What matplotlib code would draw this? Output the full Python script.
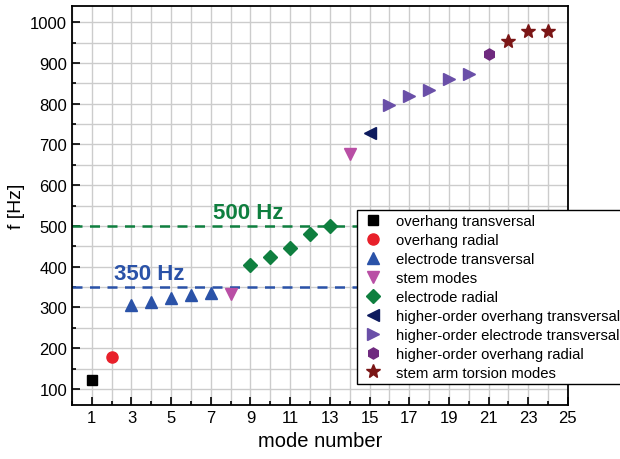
import numpy as np
import matplotlib.pyplot as plt
from matplotlib.ticker import MultipleLocator

plt.rcParams['font.family'] = ['Liberation Sans', 'DejaVu Sans']

# mode number / frequency per group
overhang_trans_x = [1]
overhang_trans_y = [122]
overhang_rad_x = [2]
overhang_rad_y = [178]
electrode_trans_x = [3, 4, 5, 6, 7]
electrode_trans_y = [305, 314, 322, 330, 336]
stem_x = [8, 14]
stem_y = [333, 677]
electrode_rad_x = [9, 10, 11, 12, 13]
electrode_rad_y = [405, 423, 446, 479, 500]
ho_overhang_trans_x = [15]
ho_overhang_trans_y = [727]
ho_electrode_trans_x = [16, 17, 18, 19, 20]
ho_electrode_trans_y = [796, 818, 833, 861, 874]
ho_overhang_rad_x = [21]
ho_overhang_rad_y = [922]
torsion_x = [22, 23, 24]
torsion_y = [953, 978, 978]

series = [
    ('overhang transversal', overhang_trans_x, overhang_trans_y, 's', '#000000', 7),
    ('overhang radial', overhang_rad_x, overhang_rad_y, 'o', '#e8202a', 8),
    ('electrode transversal', electrode_trans_x, electrode_trans_y, '^', '#2a52a8', 9),
    ('stem modes', stem_x, stem_y, 'v', '#b94fa5', 9),
    ('electrode radial', electrode_rad_x, electrode_rad_y, 'D', '#0f7f3f', 7),
    ('higher-order overhang transversal', ho_overhang_trans_x, ho_overhang_trans_y, '<', '#0d1b5e', 9),
    ('higher-order electrode transversal', ho_electrode_trans_x, ho_electrode_trans_y, '>', '#6a4fa8', 9),
    ('higher-order overhang radial', ho_overhang_rad_x, ho_overhang_rad_y, 'h', '#6f2a7f', 8),
    ('stem arm torsion modes', torsion_x, torsion_y, '*', '#7a1515', 10),
]

fig = plt.figure(figsize=(6.2, 4.6), dpi=100)
ax = fig.add_axes([0.116, 0.117, 0.800, 0.868])

# threshold lines
ax.axhline(500, color='#0f7f3f', ls=(0, (4, 3)), lw=1.8, zorder=2)
ax.axhline(350, color='#2a52a8', ls=(0, (4, 3)), lw=1.8, zorder=2)
ax.text(8.9, 507, '500 Hz', color='#0f7f3f', fontsize=16, fontweight='bold', ha='center', va='bottom')
ax.text(3.9, 357, '350 Hz', color='#2a52a8', fontsize=16, fontweight='bold', ha='center', va='bottom')

handles = []
for label, xs, ys, mk, col, ms in series:
    h, = ax.plot(xs, ys, ls='none', marker=mk, color=col, ms=ms, label=label, zorder=3)
    handles.append(h)

ax.set_xlim(0, 25)
ax.set_ylim(60, 1040)
ax.set_xticks(np.arange(1, 26, 2))
ax.xaxis.set_minor_locator(MultipleLocator(1))
ax.set_yticks(np.arange(100, 1001, 100))
ax.yaxis.set_minor_locator(MultipleLocator(50))
ax.grid(which='both', color='#cccccc', lw=1, zorder=0)
ax.set_axisbelow(True)
ax.tick_params(which='both', direction='in', labelsize=12)
ax.tick_params(which='major', length=6, width=1.2)
ax.tick_params(which='minor', length=3, width=1.2)
for s in ax.spines.values():
    s.set_linewidth(1.3)

ax.set_xlabel('mode number', fontsize=14.5)
ax.set_ylabel('f [Hz]', fontsize=14)

leg = fig.legend(handles=handles, loc='upper left', bbox_to_anchor=(357 / 620, 1 - 211 / 460),
                 fontsize=10.7, frameon=True, fancybox=False, edgecolor='black', framealpha=1,
                 borderaxespad=0, borderpad=0.3, labelspacing=0.33, handletextpad=0.8,
                 handlelength=1.5)
leg.get_frame().set_linewidth(1.0)
leg.set_zorder(5)

fig.savefig('out.png', dpi=100)
